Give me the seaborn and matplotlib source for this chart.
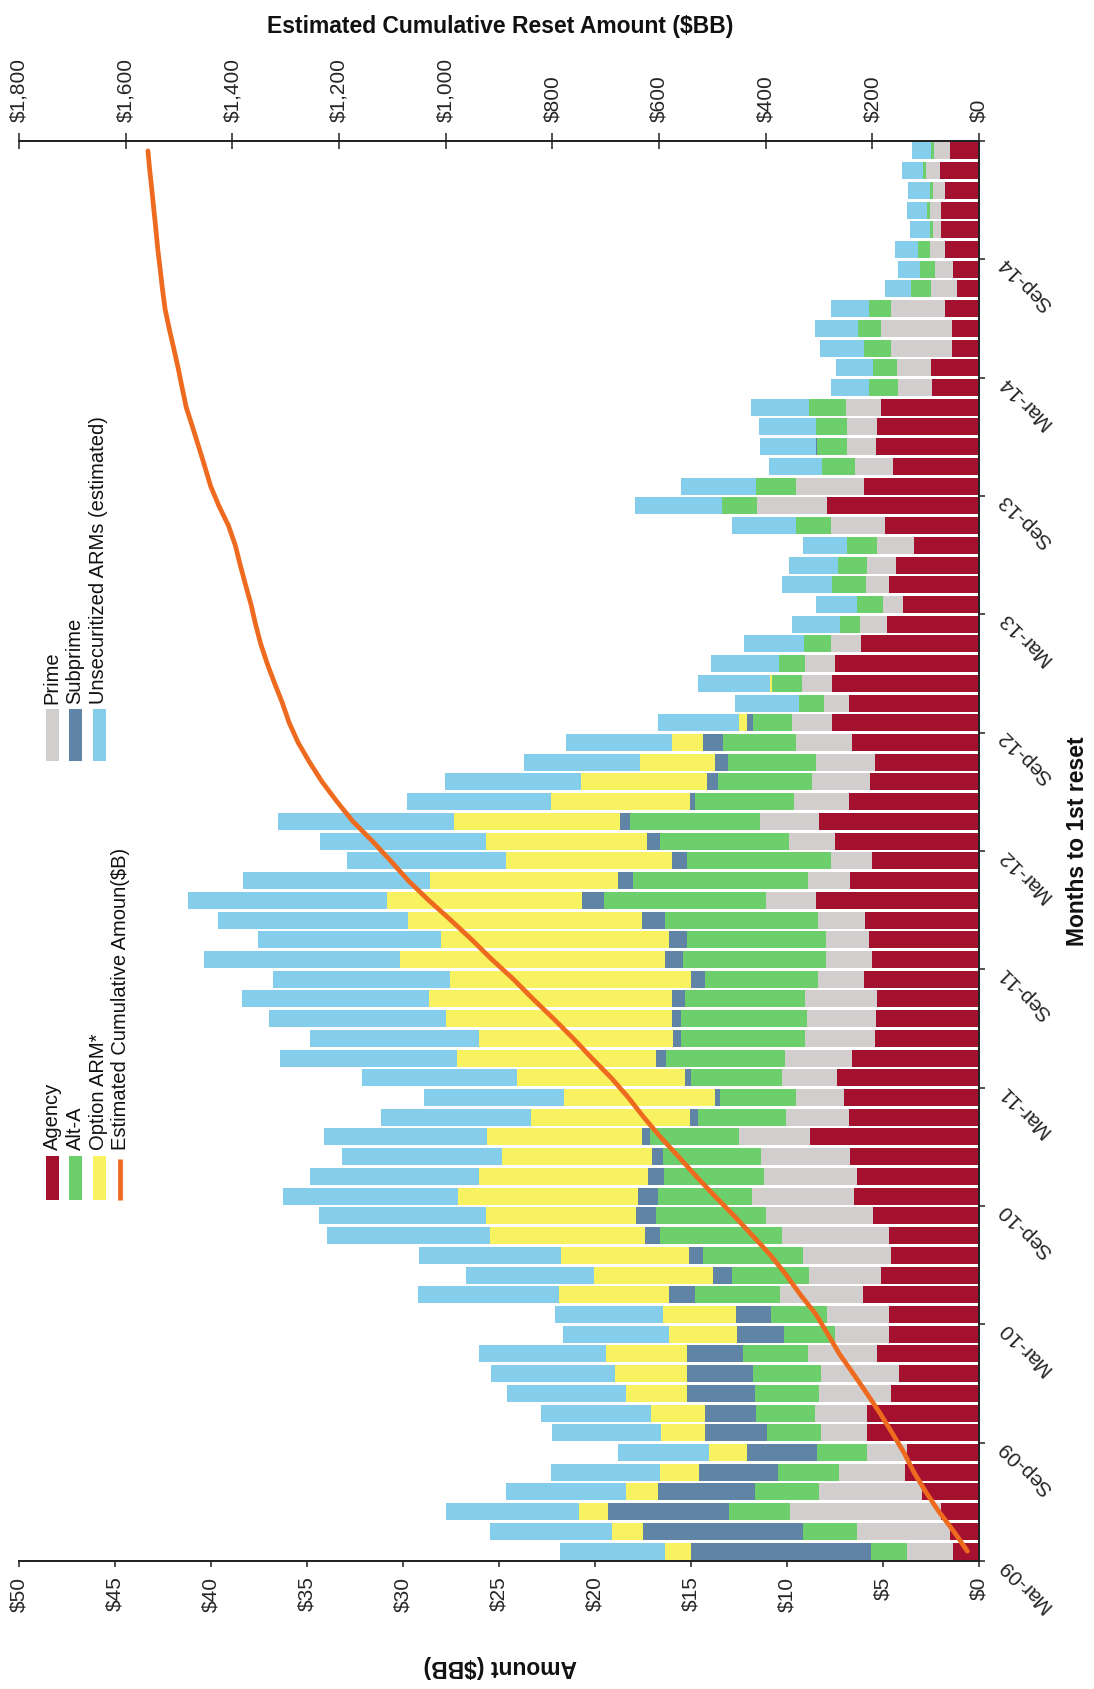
import numpy as np
import matplotlib
matplotlib.use("Agg")
import matplotlib.pyplot as plt
import seaborn as sns
from matplotlib.patches import Rectangle
from matplotlib.lines import Line2D

# ---------------------------------------------------------------------------
# Monthly ARM reset amounts ($BB), Mar-09 .. Feb-15 (72 months)
# ---------------------------------------------------------------------------
agency = [1.33, 1.53, 1.98, 2.95, 3.88, 3.77, 5.81, 5.81, 4.59, 4.16, 5.30, 4.67,
          4.67, 6.06, 5.10, 4.59, 4.67, 5.52, 6.49, 6.35, 6.71, 8.78, 6.77, 7.05,
          7.42, 6.63, 5.44, 5.38, 5.30, 6.01, 5.58, 5.72, 5.92, 8.47, 6.71, 5.58,
          7.48, 8.33, 6.77, 5.67, 5.44, 6.63, 7.65, 6.77, 7.65, 7.51, 6.15, 4.79,
          3.97, 4.67, 4.31, 3.37, 4.87, 7.90, 6.01, 4.50, 5.38, 5.30, 5.10, 2.46,
          2.48, 1.42, 1.42, 1.78, 1.12, 1.33, 1.78, 1.96, 1.96, 1.78, 2.02, 1.51]
prime = [2.41, 4.82, 7.85, 5.38, 3.40, 2.04, 2.41, 2.75, 3.74, 4.05, 3.63, 2.83,
         3.23, 4.33, 3.74, 4.59, 5.58, 5.58, 5.33, 4.84, 4.67, 3.74, 3.29, 2.49,
         2.83, 3.48, 3.60, 3.60, 3.74, 2.35, 2.41, 2.27, 2.44, 2.63, 2.21, 2.12,
         2.41, 3.06, 2.86, 3.03, 3.06, 2.92, 2.10, 1.30, 1.56, 1.53, 1.56, 1.42,
         1.05, 1.19, 1.50, 1.93, 2.83, 3.68, 3.54, 1.98, 1.47, 1.56, 1.84, 1.76,
         1.81, 3.17, 3.69, 2.81, 1.36, 0.94, 0.76, 0.42, 0.60, 0.63, 0.76, 0.82]
alt_a = [1.90, 2.83, 3.20, 3.34, 3.20, 2.61, 2.83, 3.03, 3.34, 3.54, 3.34, 2.66,
         2.92, 4.39, 4.02, 5.18, 6.37, 5.72, 4.90, 5.21, 5.10, 4.59, 4.59, 3.97,
         4.76, 6.18, 6.46, 6.52, 6.26, 5.92, 7.42, 7.22, 7.99, 8.41, 9.12, 7.51,
         6.74, 6.80, 5.16, 4.87, 4.59, 3.77, 2.01, 1.33, 1.56, 1.36, 1.42, 1.02,
         1.33, 1.78, 1.53, 1.56, 1.84, 1.78, 2.04, 1.70, 1.61, 1.64, 1.90, 1.50,
         1.21, 1.42, 1.21, 1.12, 1.06, 0.82, 0.63, 0.15, 0.15, 0.15, 0.15, 0.15]
subprime = [9.38, 8.30, 6.29, 5.04, 4.11, 3.68, 3.23, 2.69, 3.54, 3.46, 2.95, 2.44,
            1.84, 1.36, 1.02, 0.76, 0.76, 1.02, 1.05, 0.85, 0.57, 0.42, 0.42, 0.23,
            0.28, 0.54, 0.42, 0.51, 0.71, 0.71, 0.93, 0.93, 1.22, 1.16, 0.76, 0.79,
            0.65, 0.51, 0.28, 0.59, 0.65, 1.05, 0.34, 0.00, 0.00, 0.00, 0.00, 0.00,
            0.00, 0.00, 0.00, 0.00, 0.00, 0.05, 0.00, 0.00, 0.05, 0.00, 0.00, 0.00,
            0.00, 0.00, 0.00, 0.00, 0.00, 0.00, 0.00, 0.00, 0.00, 0.00, 0.00, 0.00]
option_arm = [1.33, 1.61, 1.50, 1.67, 2.04, 1.98, 2.27, 2.78, 3.17, 3.77, 4.19, 3.54,
              3.82, 5.72, 6.15, 6.66, 8.07, 7.85, 9.35, 8.81, 7.79, 8.07, 8.27, 7.85,
              8.75, 10.37, 10.11, 11.73, 12.66, 12.55, 13.80, 11.87, 12.15, 10.17, 9.80, 8.61,
              8.41, 8.64, 7.22, 6.57, 3.94, 1.64, 0.42, 0.00, 0.10, 0.00, 0.00, 0.00,
              0.00, 0.00, 0.00, 0.00, 0.00, 0.00, 0.00, 0.00, 0.00, 0.00, 0.00, 0.00,
              0.00, 0.00, 0.00, 0.00, 0.00, 0.00, 0.00, 0.00, 0.00, 0.00, 0.00, 0.00]
unsecuritized = [5.47, 6.40, 6.94, 6.23, 5.64, 4.73, 5.67, 5.75, 6.18, 6.43, 6.63, 5.52,
                 5.61, 7.37, 6.71, 7.39, 8.50, 8.70, 9.12, 8.78, 8.36, 8.53, 7.82, 7.31,
                 8.10, 9.21, 8.81, 9.24, 9.69, 9.21, 10.23, 9.52, 9.94, 10.37, 9.75, 8.30,
                 8.64, 9.18, 7.51, 7.08, 6.03, 5.52, 4.19, 3.31, 3.77, 3.54, 3.12, 2.52,
                 2.12, 2.61, 2.55, 2.32, 3.31, 4.53, 3.91, 2.78, 2.92, 2.97, 3.06, 1.98,
                 1.96, 2.27, 2.21, 1.99, 1.36, 1.12, 1.18, 1.06, 1.06, 1.12, 1.06, 1.00]

# Estimated cumulative reset amount ($B), one point per month
cumulative = [21.8, 47.3, 75.1, 99.7, 122.0, 140.8, 163.0, 185.8, 210.4, 235.8, 261.8, 283.5,
              305.6, 334.8, 361.5, 390.7, 424.7, 459.1, 495.3, 530.1, 563.3, 597.4, 628.6, 657.5,
              689.7, 726.1, 760.9, 797.9, 836.3, 873.0, 913.4, 950.9, 990.6, 1031.8, 1070.2, 1103.1,
              1137.4, 1173.9, 1203.7, 1231.5, 1255.2, 1276.7, 1293.4, 1306.1, 1320.7, 1334.6, 1346.8, 1356.5,
              1365.0, 1375.3, 1385.2, 1394.4, 1407.3, 1425.2, 1440.7, 1451.7, 1463.1, 1474.6, 1486.5, 1494.2,
              1501.7, 1510.0, 1518.5, 1526.2, 1531.1, 1535.3, 1539.7, 1543.3, 1547.1, 1550.8, 1554.8, 1558.3]

month_ticks = ["Mar-09", "Sep-09", "Mar-10", "Sep-10", "Mar-11", "Sep-11",
               "Mar-12", "Sep-12", "Mar-13", "Sep-13", "Mar-14", "Sep-14"]
amount_ticks = [0, 5, 10, 15, 20, 25, 30, 35, 40, 45, 50]
amount_labels = ["$0", "$5", "$10", "$15", "$20", "$25", "$30", "$35", "$40", "$45", "$50"]
cum_ticks = [0, 200, 400, 600, 800, 1000, 1200, 1400, 1600, 1800]
cum_labels = ["$0", "$200", "$400", "$600", "$800", "$1,000", "$1,200", "$1,400", "$1,600", "$1,800"]

series = [("Agency", agency, "#A3112E"),
          ("Prime", prime, "#D2CECE"),
          ("Alt-A", alt_a, "#6DCF6B"),
          ("Subprime", subprime, "#5F84A6"),
          ("Option ARM*", option_arm, "#F9F260"),
          ("Unsecuritized ARMs (estimated)", unsecuritized, "#85CEEB")]
line_color = "#EE6A1F"

# ---------------------------------------------------------------------------
sns.set_style("white")
plt.rcParams["font.family"] = ["Liberation Sans", "DejaVu Sans"]
title_font = dict(fontsize=16.5, fontweight="bold", color="#111111")

W, H = 1094, 1690
fig = plt.figure(figsize=(W / 100, H / 100), dpi=100)
fig.patch.set_facecolor("white")

x0, x1, y0, y1 = 19, 979, 142, 1562  # plot area in pixels
ax = fig.add_axes([x0 / W, 1 - y1 / H, (x1 - x0) / W, (y1 - y0) / H])

n = len(agency)
pos = np.arange(n)
base = np.zeros(n)
for name, vals, col in series:
    vals = np.asarray(vals, dtype=float)
    ax.barh(pos, vals, left=base, height=0.86, color=col, edgecolor="none", linewidth=0, zorder=2)
    base += vals

ax.set_xlim(50, 0)
ax.set_ylim(-0.5, n - 0.5)
ax.set_xticks(amount_ticks)
ax.set_xticklabels(amount_labels)
ax.tick_params(axis="x", direction="out", length=4.5, width=1.1, color="#222222",
               pad=6, labelsize=15, labelrotation=90, bottom=True)

ax.yaxis.tick_right()
ytick_pos = [i * 6 - 0.5 for i in range(len(month_ticks))] + [n - 0.5]
ax.set_yticks(ytick_pos)
ax.set_yticklabels(month_ticks + [""])
ax.tick_params(axis="y", direction="out", length=4.5, width=1.1, color="#222222",
               pad=12, labelsize=15, right=True, left=False)
for lab in ax.get_yticklabels():
    lab.set_rotation(135)
    lab.set_rotation_mode("anchor")
    lab.set_ha("right")
    lab.set_va("center")

ax.spines["left"].set_visible(False)
for side in ["right", "bottom", "top"]:
    ax.spines[side].set_color("#222222")
    ax.spines[side].set_linewidth(1.3)
ax.grid(False)

# cumulative amount on the top axis
ax2 = ax.twiny()
sns.lineplot(x=cumulative, y=pos, sort=False, estimator=None, ax=ax2,
             color=line_color, linewidth=3.4, zorder=5)
ax2.set_xlim(1800, 0)
ax2.set_ylim(-0.5, n - 0.5)
ax2.set_xticks(cum_ticks)
ax2.set_xticklabels(cum_labels)
ax2.tick_params(axis="x", direction="inout", length=11, width=1.1, color="#222222",
                pad=9, labelsize=15, labelrotation=90, top=True)
ax2.set_xlabel("")
ax2.set_ylabel("")
ax2.spines["left"].set_visible(False)
for side in ["right", "bottom", "top"]:
    ax2.spines[side].set_color("#222222")
    ax2.spines[side].set_linewidth(1.3)
ax2.grid(False)


def fx(px):
    return px / W


def fy(py):
    return 1 - py / H


fig.text(fx(500), fy(26), "Estimated Cumulative Reset Amount ($BB)", ha="center", va="center", **title_font)
fig.text(fx(500), fy(1667), "Amount ($BB)", ha="center", va="center", rotation=180, **title_font)
fig.text(fx(1078), fy(841), "Months to 1st reset", ha="center", va="center", rotation=90, **title_font)

# legend drawn as rotated entries
colors = {name: col for name, _, col in series}
legend_groups = [
    (["Agency", "Alt-A", "Option ARM*"], 1157, 1201, 1150),
    (["Prime", "Subprime", "Unsecuritized ARMs (estimated)"], 710, 762, 704),
]
col_x = [52, 75, 99]
for names, ptop, pbot, tstart in legend_groups:
    for name, cx in zip(names, col_x):
        fig.add_artist(Rectangle((fx(cx - 6.5), fy(pbot)), 13 / W, (pbot - ptop) / H,
                                 transform=fig.transFigure, facecolor=colors[name],
                                 edgecolor="none"))
        fig.text(fx(cx), fy(tstart), name, rotation=90, rotation_mode="anchor",
                 ha="left", va="center", fontsize=14.5, color="#111111")
fig.add_artist(Line2D([fx(120), fx(120)], [fy(1201), fy(1160)], transform=fig.transFigure,
                      color=line_color, linewidth=3.4, solid_capstyle="butt"))
fig.text(fx(120), fy(1150), "Estimated Cumulative Amoun($B)", rotation=90, rotation_mode="anchor",
         ha="left", va="center", fontsize=14.5, color="#111111")

fig.savefig("out.png", dpi=100, facecolor="white")
